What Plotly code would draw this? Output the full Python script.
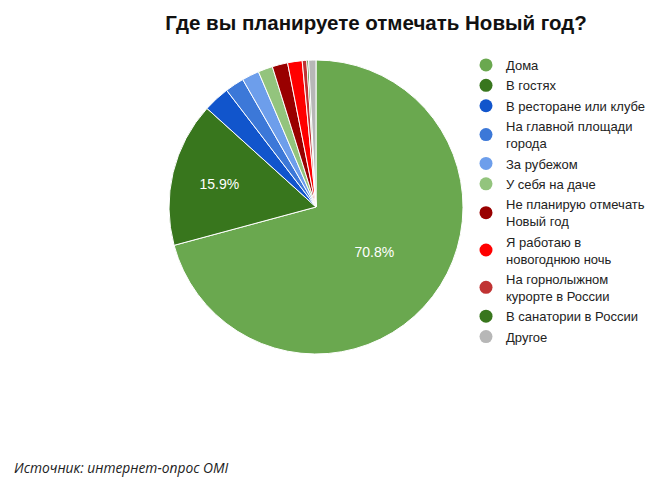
import plotly.graph_objects as go

labels = ["Дома", "В гостях", "В ресторане или клубе", "На главной площади<br>города",
          "За рубежом", "У себя на даче", "Не планирую отмечать<br>Новый год",
          "Я работаю в<br>новогоднюю ночь", "На горнолыжном<br>курорте в России",
          "В санатории в России", "Другое"]
values = [70.8, 15.9, 2.9, 2.1, 1.9, 1.6, 1.7, 1.6, 0.5, 0.2, 0.8]
colors = ["#6aa84f", "#38761d", "#1155cc", "#3c78d8", "#6d9eeb", "#93c47d",
          "#990000", "#ff0000", "#c03333", "#38761d", "#b7b7b7"]
shown_text = ["70.8%", "15.9%", "", "", "", "", "", "", "", "", ""]

W, H = 667, 483
cx, cy, r = 316, 207, 147

fig = go.Figure()
fig.add_trace(go.Pie(
    labels=labels, values=values, sort=False, direction="clockwise", rotation=0,
    marker=dict(colors=colors, line=dict(color="white", width=1)),
    text=shown_text, textinfo="text", textposition="inside",
    insidetextorientation="horizontal",
    textfont=dict(color="white", size=14, family="Arial"),
    showlegend=False, hoverinfo="label+percent",
    domain=dict(x=[(cx - r) / W, (cx + r) / W], y=[(H - cy - r) / H, (H - cy + r) / H]),
))
for i, (lab, col) in enumerate(zip(labels, colors)):
    fig.add_trace(go.Scatter(x=[None], y=[None], mode="markers", name=lab,
                             legendgroup=f"g{i}",
                             marker=dict(color=col, size=13, symbol="circle")))

fig.update_layout(
    width=W, height=H, margin=dict(l=0, r=0, t=0, b=0),
    paper_bgcolor="white", plot_bgcolor="white",
    xaxis=dict(visible=False), yaxis=dict(visible=False),
    title=dict(text="<b>Где вы планируете отмечать Новый год?</b>", x=376 / W, xanchor="center",
               y=1 - 23 / H, yanchor="middle",
               font=dict(family="Arial", size=20.5, color="#111")),
    legend=dict(x=466 / W, y=1 - 50 / H, xanchor="left", yanchor="top",
                font=dict(family="Arial", size=13, color="#222"),
                tracegroupgap=0.5, itemwidth=30, bgcolor="rgba(0,0,0,0)"),
    annotations=[dict(text="<i>Источник: интернет-опрос OMI</i>", x=12 / W, y=1 - 467 / H,
                      xref="paper", yref="paper", xanchor="left", yanchor="middle",
                      showarrow=False, font=dict(family="Open Sans", size=13.8, color="#222"))],
)
fig.write_html("out.html")
